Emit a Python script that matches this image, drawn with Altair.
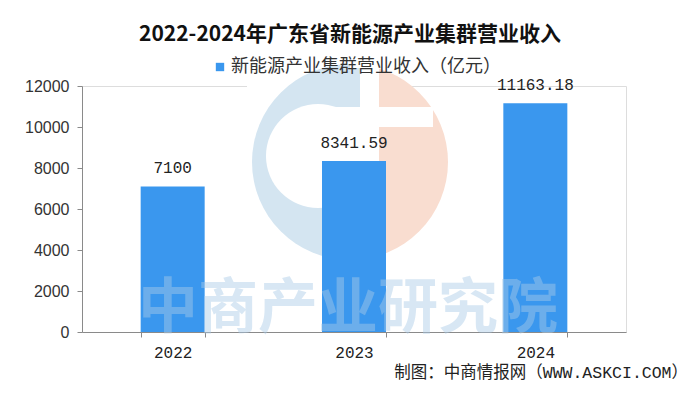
import math
import altair as alt
import pandas as pd

# ---- data ----
years = ["2022", "2023", "2024"]
revenue = [7100, 8341.59, 11163.18]
revenue_labels = ["7100", "8341.59", "11163.18"]
series_name = "新能源产业集群营业收入（亿元）"
y_ticks = [0, 2000, 4000, 6000, 8000, 10000, 12000]

title_text = "2022-2024年广东省新能源产业集群营业收入"
source_text = "制图：中商情报网（WWW.ASKCI.COM）"
watermark_text = "中商产业研究院"

BAR = "#3A97EE"
LOGO_BLUE = "#d4e5f1"
LOGO_ORANGE = "#f9ddd0"

df = pd.DataFrame({"year": years, "value": revenue, "label": revenue_labels,
                   "series": [series_name] * len(years)})
one = pd.DataFrame({"k": [0]})

x_enc = alt.X("year:N", sort=years,
              scale=alt.Scale(paddingInner=0.647, paddingOuter=0.3235),
              axis=alt.Axis(title=None, labelAngle=0, tickBand="extent",
                            labelFont="Liberation Mono", labelFontSize=16,
                            labelColor="#222", tickSize=5, labelPadding=7,
                            domainColor="#8a8a8a", tickColor="#8a8a8a"))
y_enc = alt.Y("value:Q", scale=alt.Scale(domain=[0, 12000], nice=False),
              axis=alt.Axis(title=None, values=y_ticks, grid=False, format="d",
                            labelFont="Liberation Sans", labelFontSize=16,
                            labelColor="#333", tickSize=5, labelPadding=8,
                            domainColor="#8a8a8a", tickColor="#8a8a8a"))

# ---- decorative logo (behind bars) ----
cx, cy, R = 268, 76, 98
logo_orange = alt.Chart(one).mark_arc(color=LOGO_ORANGE, theta=0, theta2=2 * math.pi,
                                      radius=R, radius2=0).encode(
    x=alt.value(cx), y=alt.value(cy))
logo_white1 = alt.Chart(one).mark_rect(color="white").encode(
    x=alt.value(165), x2=alt.value(297), y=alt.value(-24), y2=alt.value(180))
logo_blue = alt.Chart(one).mark_arc(color=LOGO_BLUE, theta=math.pi, theta2=2 * math.pi,
                                    radius=R, radius2=0).encode(
    x=alt.value(cx), y=alt.value(cy))
logo_blue_rect = alt.Chart(one).mark_rect(color=LOGO_BLUE).encode(
    x=alt.value(cx), x2=alt.value(278), y=alt.value(-18), y2=alt.value(173))
logo_hole = alt.Chart(one).mark_arc(color="white", theta=0, theta2=2 * math.pi,
                                    radius=52, radius2=0).encode(
    x=alt.value(236), y=alt.value(70))
logo_hole_rect = alt.Chart(one).mark_rect(color="white").encode(
    x=alt.value(236), x2=alt.value(279), y=alt.value(21), y2=alt.value(119))
logo_notch = alt.Chart(one).mark_rect(color="white").encode(
    x=alt.value(297), x2=alt.value(351), y=alt.value(21), y2=alt.value(41))

# ---- bars + labels ----
bars = alt.Chart(df).mark_bar(size=64).encode(
    x=x_enc, y=y_enc,
    color=alt.Color("series:N", scale=alt.Scale(range=[BAR]),
                    legend=alt.Legend(title=None, orient="none", legendX=129, legendY=-28,
                                      symbolType="square", symbolSize=70,
                                      symbolStrokeWidth=0, symbolOffset=0,
                                      labelFont="Noto Sans CJK SC", labelFontSize=18,
                                      labelColor="#333", labelLimit=500, labelOffset=2)))

labels = alt.Chart(df).mark_text(font="Liberation Mono", fontSize=16, color="#222",
                                 baseline="alphabetic", dy=-13).encode(
    x=alt.X("year:N", sort=years), y="value:Q", text="label:N")

watermark = alt.Chart(one).mark_text(text=watermark_text, font="Noto Sans CJK SC",
                                     fontWeight="bold", fontSize=60, color="#a9cbe8",
                                     opacity=0.45, align="center", baseline="middle").encode(
    x=alt.value(266), y=alt.value(224))

source = alt.Chart(one).mark_text(text=source_text,
                                  font="Liberation Mono, Noto Sans CJK SC",
                                  fontSize=16.5, color="#222", align="right",
                                  baseline="middle").encode(
    x=alt.value(606), y=alt.value(287))

chart = alt.layer(
    logo_orange, logo_white1, logo_blue, logo_blue_rect, logo_hole, logo_hole_rect,
    logo_notch, bars, labels, watermark, source
).properties(
    width=544, height=246,
    autosize=alt.AutoSizeParams(type="none"),
    padding={"left": 74, "top": 78, "right": 66, "bottom": 57},
    title=alt.TitleParams(title_text, font="Noto Sans CJK SC", fontSize=21,
                          fontWeight="bold", color="#111", anchor="middle",
                          frame="group", offset=13, dx=-4),
).configure_view(stroke=None).configure(background="white")

chart.save("out.html", embed_options={"renderer": "svg", "actions": False})
